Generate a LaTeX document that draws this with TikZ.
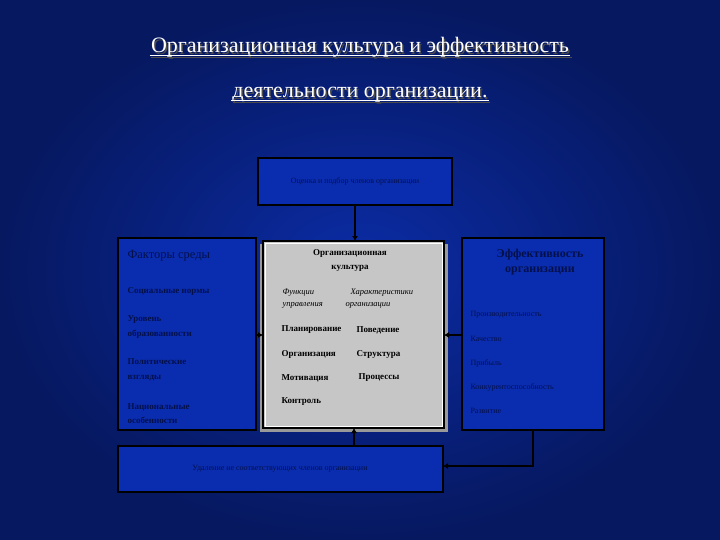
\documentclass[tikz,border=0pt]{standalone}
\usepackage{fontspec}
\setmainfont{Liberation Serif}
\usetikzlibrary{arrows.meta}
\begin{document}
\begin{tikzpicture}[x=1pt,y=-1pt,
 box/.style={draw=black,line width=2.2pt,fill=boxc},
 dtxt/.style={text=txt,font=\bfseries,align=left,anchor=west},
 ttl/.style={font=\fontsize{22}{26}\selectfont,inner sep=1pt,anchor=base},
 ctx/.style={font=\fontsize{9}{11}\selectfont\bfseries,anchor=west},
 arr/.style={line width=2pt,draw=black,-{Latex[length=5pt,width=6pt]}}]
\definecolor{txt}{HTML}{04104A}
\definecolor{bgc}{HTML}{0B2CA6}
\definecolor{bge}{HTML}{061860}
\definecolor{boxc}{HTML}{0A2DB0}
\useasboundingbox (0,0) rectangle (720,540);
\fill[inner color=bgc,outer color=bge] (0,0) rectangle (720,540);
\node[ttl,text=black!70] (t1s) at (361.5,54.5) {Организационная культура и эффективность};
\draw[black!70,line width=1pt] ([yshift=-3pt]t1s.base west) -- ([yshift=-3pt]t1s.base east);
\node[ttl,text=white] (t1) at (360,53) {Организационная культура и эффективность};
\draw[white,line width=1pt] ([yshift=-3pt]t1.base west) -- ([yshift=-3pt]t1.base east);
\node[ttl,text=black!70] (t2s) at (361.5,99.5) {деятельности организации.};
\draw[black!70,line width=1pt] ([yshift=-3pt]t2s.base west) -- ([yshift=-3pt]t2s.base east);
\node[ttl,text=white] (t2) at (360,98) {деятельности организации.};
\draw[white,line width=1pt] ([yshift=-3pt]t2.base west) -- ([yshift=-3pt]t2.base east);
% boxes
\draw[box] (258,158) rectangle (452,205);
\node[text=txt,font=\fontsize{8}{9}\selectfont] (top) at (355,181) {Оценка и подбор членов организации};
\coordinate (topb) at (355,205);
\draw[box] (118,238) rectangle (256,430);
\coordinate (leftr) at (256,335);
\draw[black!40,line width=3pt] (261,245) rectangle (446,430);
\fill[gray!45] (263,241) rectangle (444,428);
\draw[black,line width=2pt] (263,241) rectangle (444,428);
\draw[white,line width=0.8pt] (265,243) rectangle (442,426);
\coordinate (ct) at (355,241);
\coordinate (cl) at (263,335);
\coordinate (cr) at (444,335);
\coordinate (cb) at (354,428);
\draw[box] (462,238) rectangle (604,430);
\coordinate (rr) at (462,335);
\draw[box] (118,446) rectangle (443,492);
\coordinate (bt) at (354,446);
\coordinate (br) at (443,466);
\coordinate (rb) at (533,430);
% connectors
\draw[arr] (topb) -- (ct);
\draw[arr] (leftr) -- (cl);
\draw[arr] (rr) -- (cr);
\draw[arr] (bt) -- (cb);
\draw[arr] (rb) |- (br);
% left text
\node[text=txt,font=\fontsize{12.5}{14}\selectfont,anchor=west] (lf) at (124,256) {Факторы среды};
\node[dtxt,font=\fontsize{9}{10}\selectfont\bfseries] (l1) at (124,291) {Социальные нормы};
\node[dtxt,font=\fontsize{9}{15}\selectfont\bfseries] (l2) at (124,327) {Уровень\\образованности};
\node[dtxt,font=\fontsize{9}{15}\selectfont\bfseries] (l3) at (124,370) {Политические\\взгляды};
\node[dtxt,font=\fontsize{9}{14}\selectfont\bfseries] (l4) at (124,414) {Национальные\\особенности};
% center text
\node[font=\fontsize{9}{14}\selectfont\bfseries,align=center] (ch) at (350,260) {Организационная\\культура};
\node[font=\fontsize{8.5}{12}\selectfont\itshape,align=left,anchor=west] (c1) at (279,299) {Функции\\управления};
\node[font=\fontsize{8.5}{12}\selectfont\itshape,align=left,anchor=west] (c2) at (342,299) {\hspace{5pt}Характеристики\\организации};
\node[ctx] (c3) at (278,330) {Планирование};
\node[ctx] (c4) at (353,330) {Поведение};
\node[ctx] (c5) at (278,354) {Организация};
\node[ctx] (c6) at (353,354) {Структура};
\node[ctx] (c7) at (278,378) {Мотивация};
\node[ctx] (c8) at (355,378) {Процессы};
\node[ctx] (c9) at (278,402) {Контроль};
% right text
\node[text=txt,font=\fontsize{12}{15}\selectfont\bfseries,align=center] (rh) at (540,262) {Эффективность\\организации};
\node[text=txt,font=\fontsize{8}{9}\selectfont,anchor=west] (r1) at (467,315) {Производительность};
\node[text=txt,font=\fontsize{8}{9}\selectfont,anchor=west] (r2) at (467,339) {Качество};
\node[text=txt,font=\fontsize{8}{9}\selectfont,anchor=west] (r3) at (467,363) {Прибыль};
\node[text=txt,font=\fontsize{8}{9}\selectfont,anchor=west] (r4) at (467,387) {Конкурентоспособность};
\node[text=txt,font=\fontsize{8}{9}\selectfont,anchor=west] (r5) at (467,411) {Развитие};
% bottom text
\node[text=txt,font=\fontsize{8}{9}\selectfont] (bot) at (280,469) {Удаление не соответствующих членов организации};
\end{tikzpicture}
\end{document}
